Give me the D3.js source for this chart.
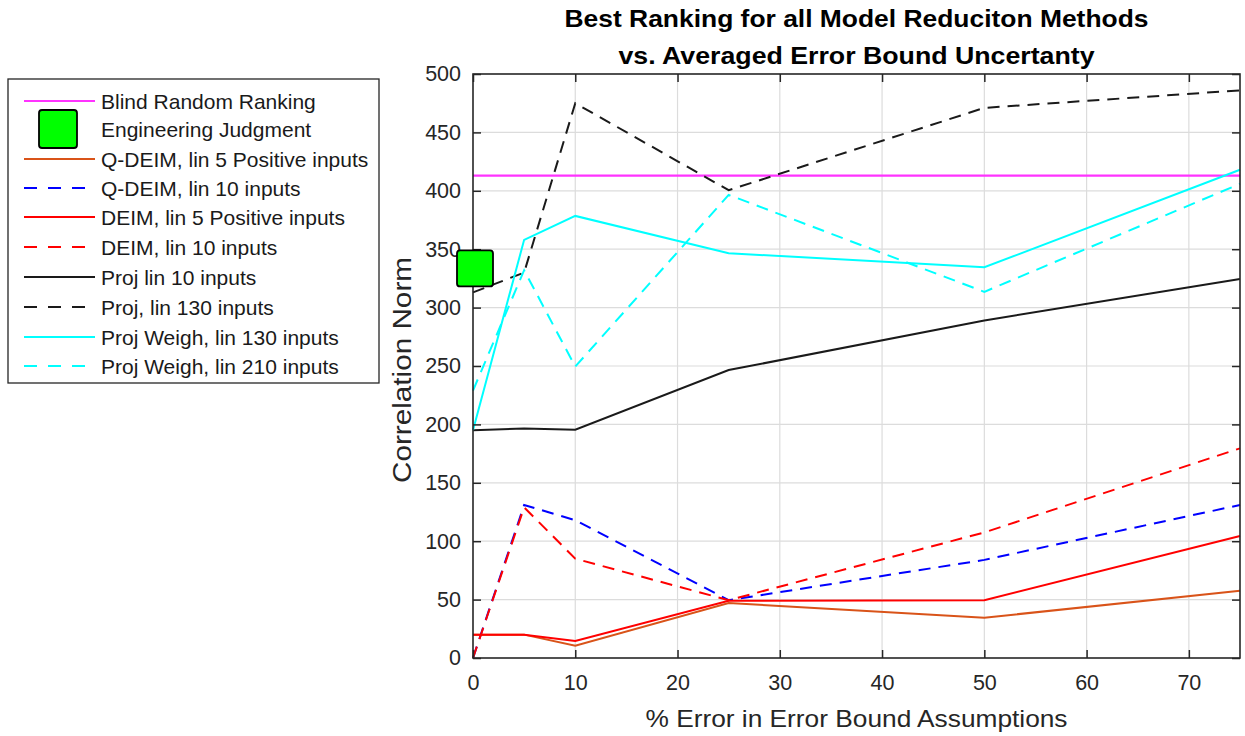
<!DOCTYPE html>
<html>
<head>
<meta charset="utf-8">
<script src="https://cdn.jsdelivr.net/npm/d3@7"></script>
<style>
  body { margin: 0; background: #fff; }
  svg text { font-family: "Liberation Sans", Arial, sans-serif; }
</style>
</head>
<body>
<svg id="chart" width="1245" height="736"></svg>
<script>
// Error levels (%) at which each method was evaluated
const errorPct = [0, 5, 10, 25, 50, 75];

// Correlation norm per method
const qdeim5Pos  = [20, 20, 10.5, 47, 34.5, 57.5];
const qdeim10    = [0, 131, 118, 49.5, 84, 131];
const deim5Pos   = [20, 20, 14.5, 49, 49.5, 104.5];
const deim10     = [0, 129, 85, 49.5, 107.5, 179.5];
const proj10     = [195, 196.5, 195.5, 246.5, 289, 324.5];
const proj130    = [313, 330, 475, 400.5, 471, 486];
const projW130   = [195, 358, 378.5, 346.5, 334.5, 418];
const projW210   = [229, 332, 249.5, 396.5, 313.5, 406];

const blindRandom = 413;
const engJudgment = { x: 0, y: 333.5 };

const xTicks = [0, 10, 20, 30, 40, 50, 60, 70];
const yTicks = [0, 50, 100, 150, 200, 250, 300, 350, 400, 450, 500];

const series = [
  { name: "Q-DEIM, lin 5 Positive inputs", values: qdeim5Pos, color: "#D95319", dash: null },
  { name: "Q-DEIM, lin 10 inputs",         values: qdeim10,   color: "#0000FF", dash: "12,8" },
  { name: "DEIM, lin 5 Positive inputs",   values: deim5Pos,  color: "#FF0000", dash: null },
  { name: "DEIM, lin 10 inputs",           values: deim10,    color: "#FF0000", dash: "12,8" },
  { name: "Proj lin 10 inputs",            values: proj10,    color: "#1a1a1a", dash: null },
  { name: "Proj, lin 130 inputs",          values: proj130,   color: "#1a1a1a", dash: "12,8" },
  { name: "Proj Weigh, lin 130 inputs",    values: projW130,  color: "#00FFFF", dash: null },
  { name: "Proj Weigh, lin 210 inputs",    values: projW210,  color: "#00FFFF", dash: "12,8" }
];

const svg = d3.select("#chart");
const m = { left: 473, right: 1240, top: 74, bottom: 658 };

const x = d3.scaleLinear().domain([0, 75]).range([m.left, m.right]);
const y = d3.scaleLinear().domain([0, 500]).range([m.bottom, m.top]);

const axisColor = "#262626";
const tickLen = 8;

// grid
const grid = svg.append("g");
grid.selectAll(".gx").data(xTicks.filter(d => d > 0)).join("line")
  .attr("x1", d => x(d)).attr("x2", d => x(d))
  .attr("y1", m.top).attr("y2", m.bottom)
  .attr("stroke", "#dcdcdc").attr("stroke-width", 1.2);
grid.selectAll(".gy").data(yTicks.filter(d => d > 0 && d < 500)).join("line")
  .attr("x1", m.left).attr("x2", m.right)
  .attr("y1", d => y(d)).attr("y2", d => y(d))
  .attr("stroke", "#dcdcdc").attr("stroke-width", 1.2);

// data lines
const line = d3.line().x((d, i) => x(errorPct[i])).y(d => y(d));

svg.append("line")
  .attr("x1", x(0)).attr("x2", x(75))
  .attr("y1", y(blindRandom)).attr("y2", y(blindRandom))
  .attr("stroke", "#FF33FF").attr("stroke-width", 2.2);

svg.append("g").selectAll("path").data(series).join("path")
  .attr("d", d => line(d.values))
  .attr("fill", "none")
  .attr("stroke", d => d.color)
  .attr("stroke-width", 2)
  .attr("stroke-dasharray", d => d.dash);

// axes box with inward ticks
const axG = svg.append("g");
const xBottom = d3.axisBottom(x).tickValues(xTicks).tickSizeInner(-tickLen).tickSizeOuter(0).tickPadding(17);
const xTop = d3.axisTop(x).tickValues(xTicks).tickSizeInner(-tickLen).tickSizeOuter(0).tickFormat("");
const yLeft = d3.axisLeft(y).tickValues(yTicks).tickSizeInner(-tickLen).tickSizeOuter(0).tickPadding(12);
const yRight = d3.axisRight(y).tickValues(yTicks).tickSizeInner(-tickLen).tickSizeOuter(0).tickFormat("");

function styleAxis(g) {
  g.select(".domain").remove();
  g.selectAll(".tick line").attr("stroke", axisColor).attr("stroke-width", 1.5);
  g.selectAll(".tick text").attr("fill", "#262626").style("font-size", "21.5px")
    .style("font-family", "'Liberation Sans', Arial, sans-serif");
}
axG.append("g").attr("transform", `translate(0,${m.bottom})`).call(xBottom).call(styleAxis);
axG.append("g").attr("transform", `translate(0,${m.top})`).call(xTop).call(styleAxis);
axG.append("g").attr("transform", `translate(${m.left},0)`).call(yLeft).call(styleAxis);
axG.append("g").attr("transform", `translate(${m.right},0)`).call(yRight).call(styleAxis);

axG.append("rect")
  .attr("x", m.left).attr("y", m.top)
  .attr("width", m.right - m.left).attr("height", m.bottom - m.top)
  .attr("fill", "none").attr("stroke", axisColor).attr("stroke-width", 1.6);

// engineering judgment marker
const sq = 36;
svg.append("rect")
  .attr("x", x(engJudgment.x) - sq / 2 + 2).attr("y", y(engJudgment.y) - sq / 2)
  .attr("width", sq).attr("height", sq).attr("rx", 3)
  .attr("fill", "#00FF00").attr("stroke", "#000").attr("stroke-width", 1.8);

// axis labels
svg.append("text")
  .attr("x", (m.left + m.right) / 2).attr("y", 727)
  .attr("text-anchor", "middle").attr("fill", "#262626")
  .attr("textLength", 422).attr("lengthAdjust", "spacingAndGlyphs")
  .style("font-size", "24px")
  .text("% Error in Error Bound Assumptions");

svg.append("text")
  .attr("transform", `translate(411,${(m.top + m.bottom) / 2 + 4}) rotate(-90)`)
  .attr("text-anchor", "middle").attr("fill", "#262626")
  .attr("textLength", 226).attr("lengthAdjust", "spacingAndGlyphs")
  .style("font-size", "25px")
  .text("Correlation Norm");

// title
const titleLines = [
  { text: "Best Ranking for all Model Reduciton Methods", len: 584 },
  { text: "vs. Averaged Error Bound Uncertanty", len: 476 }
];
svg.append("g").selectAll("text").data(titleLines).join("text")
  .attr("x", (m.left + m.right) / 2)
  .attr("y", (d, i) => 27 + i * 37)
  .attr("text-anchor", "middle")
  .attr("fill", "#000")
  .attr("textLength", d => d.len).attr("lengthAdjust", "spacingAndGlyphs")
  .style("font-size", "24px").style("font-weight", "bold")
  .text(d => d.text);

// legend
const leg = svg.append("g");
leg.append("rect").attr("x", 8).attr("y", 79).attr("width", 371).attr("height", 304)
  .attr("fill", "#fff").attr("stroke", "#262626").attr("stroke-width", 1.3);

const legendItems = [
  { name: "Blind Random Ranking", color: "#FF33FF", dash: null, type: "line" },
  { name: "Engineering Judgment", type: "marker" },
  ...series.map(s => ({ name: s.name, color: s.color, dash: s.dash, type: "line" }))
];
const legY = [101, 129, 159, 188, 217, 247, 277, 307, 337, 366];

const li = leg.selectAll(".li").data(legendItems).join("g")
  .attr("transform", (d, i) => `translate(0,${legY[i]})`);
li.filter(d => d.type === "line").append("line")
  .attr("x1", 24).attr("x2", 95).attr("y1", 0).attr("y2", 0)
  .attr("stroke", d => d.color).attr("stroke-width", 2)
  .attr("stroke-dasharray", d => d.dash ? "13,11" : null);
li.filter(d => d.type === "marker").append("rect")
  .attr("x", 39).attr("y", -19).attr("width", 38).attr("height", 38).attr("rx", 3)
  .attr("fill", "#00FF00").attr("stroke", "#000").attr("stroke-width", 1.8);
li.append("text")
  .attr("x", 101).attr("y", 0).attr("dy", "0.36em")
  .attr("fill", "#1a1a1a")
  .style("font-size", "21px")
  .text(d => d.name);
</script>
</body>
</html>
